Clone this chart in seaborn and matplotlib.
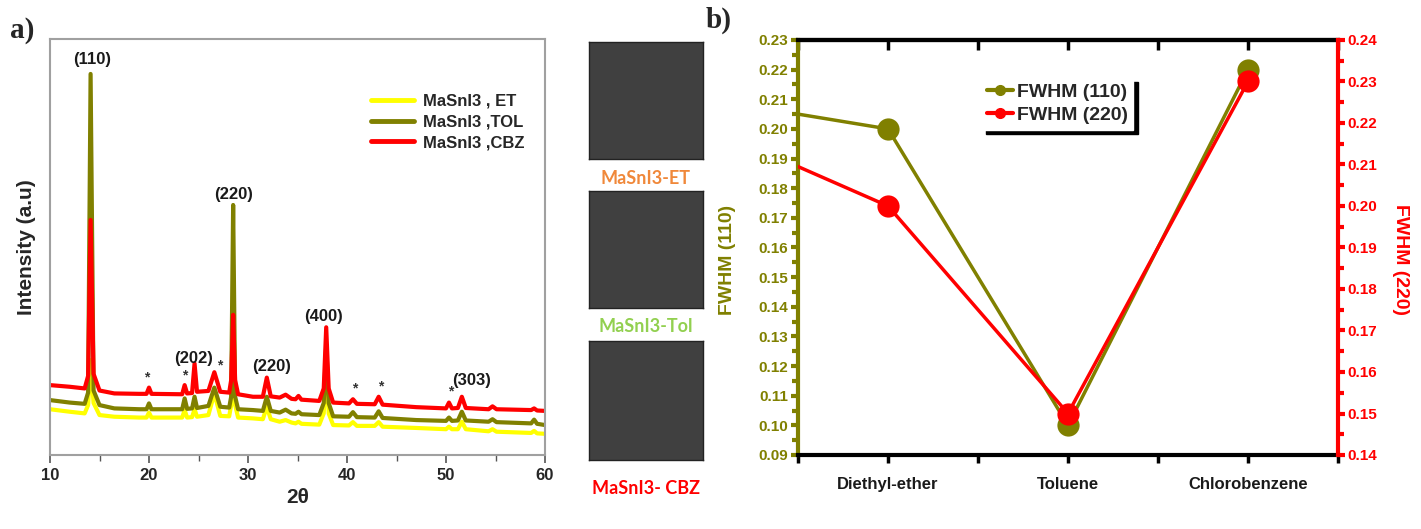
import numpy as np
import pandas as pd
import seaborn as sns
import matplotlib.pyplot as plt
from matplotlib.lines import Line2D
from matplotlib.ticker import MultipleLocator, FormatStrFormatter

# ---------------- data: XRD patterns (2-theta vertices and intensities, a.u.) ----------------
two_theta = [10.0, 12.0, 13.5, 13.85, 14.1, 14.4, 15.0, 16.5, 19.0, 19.75,
             20.0, 20.25, 23.35, 23.6, 23.85, 24.35, 24.6, 24.85, 26.0, 26.6,
             27.2, 28.1, 28.3, 28.5, 28.7, 29.0, 30.5, 31.5, 31.9, 32.3,
             33.2, 33.8, 34.4, 34.8, 35.1, 35.4, 37.2, 37.65, 37.9, 38.15,
             38.6, 40.2, 40.6, 41.0, 42.8, 43.2, 43.6, 47.0, 50.0, 50.3,
             50.6, 51.2, 51.6, 52.0, 54.3, 54.7, 55.1, 58.6, 58.9, 59.2, 60.0]

int_cbz = [16.8, 16.4, 16.0, 19.0, 56.5, 19.5, 15.5, 14.8, 14.7, 14.7,
           16.2, 14.7, 14.6, 16.8, 14.8, 14.9, 22.0, 15.2, 15.4, 19.9,
           15.2, 15.0, 18.0, 33.7, 18.0, 14.6, 14.0, 14.0, 18.6, 14.1,
           13.8, 14.5, 13.5, 13.4, 14.2, 13.3, 13.0, 16.0, 30.7, 16.0,
           12.6, 12.4, 13.4, 12.3, 12.2, 14.0, 12.1, 11.5, 11.2, 12.6,
           11.2, 11.3, 14.0, 11.3, 11.0, 11.7, 11.0, 10.8, 11.2, 10.7, 10.6]

int_tol = [13.2, 12.6, 12.3, 15.0, 91.6, 15.5, 12.0, 11.2, 11.0, 11.0,
           12.4, 11.0, 11.0, 13.6, 11.1, 11.2, 14.0, 11.3, 11.8, 16.2,
           11.6, 11.4, 14.0, 60.1, 14.0, 11.0, 10.8, 10.6, 14.0, 10.6,
           10.2, 10.9, 10.0, 9.9, 10.4, 9.8, 9.6, 12.5, 26.4, 12.5,
           9.3, 9.2, 10.3, 9.1, 9.0, 10.5, 8.9, 8.4, 8.2, 9.0,
           8.2, 8.3, 10.4, 8.3, 8.0, 8.6, 7.9, 7.6, 8.5, 7.5, 7.2]

int_et = [11.0, 10.4, 10.0, 12.0, 22.8, 12.5, 9.6, 9.2, 9.0, 9.0,
          10.2, 9.0, 9.0, 10.8, 9.0, 9.1, 11.0, 9.2, 9.6, 14.8,
          9.4, 9.3, 12.0, 30.0, 12.0, 9.0, 8.8, 8.6, 11.6, 8.6,
          8.0, 8.4, 7.8, 7.6, 8.0, 7.5, 7.3, 10.0, 22.8, 10.0,
          7.2, 7.1, 7.9, 7.0, 7.0, 7.9, 6.8, 6.5, 6.2, 6.8,
          6.2, 6.2, 8.0, 6.2, 5.7, 6.2, 5.6, 5.3, 5.8, 5.2, 5.1]

series_names = ["MaSnI3 , ET", "MaSnI3 ,TOL", "MaSnI3 ,CBZ"]
series_colors = ["#ffff00", "#808000", "#ff0000"]

# reflection labels (text, 2-theta, height)
hkl_text = ["(110)", "(220)", "(202)", "(220)", "(400)", "(303)"]
hkl_pos = [14.3, 28.5, 24.5, 32.4, 37.6, 52.6]
hkl_y = [95.0, 62.5, 23.3, 21.2, 33.2, 18.0]
# impurity markers
star_pos = [19.8, 23.6, 27.1, 40.8, 43.4, 50.5]
star_y = [18.6, 19.0, 21.6, 16.1, 16.4, 15.2]

# ---------------- data: FWHM versus solvent ----------------
solvents = ["Diethyl-ether", "Toluene", "Chlorobenzene"]
solvent_pos = [1, 2, 3]
# leading point at position 0 lies left of the visible range
fwhm_pos = [0, 1, 2, 3]
fwhm_110 = [0.210, 0.20, 0.10, 0.22]
fwhm_220 = [0.219, 0.20, 0.15, 0.23]

film_labels = ["MaSnI3-ET", "MaSnI3-Tol", "MaSnI3- CBZ"]
film_colors = ["#f0883a", "#92d050", "#ff0000"]

# ---------------- figure ----------------
sns.set_theme(style="white")
plt.rcParams["font.family"] = ["Liberation Sans", "DejaVu Sans"]
plt.rcParams["font.weight"] = "bold"

W, H = 1421, 529
fig = plt.figure(figsize=(W / 100, H / 100), dpi=100)
fig.patch.set_facecolor("white")


def px_axes(left, top, right, bottom):
    return fig.add_axes([left / W, 1 - bottom / H, (right - left) / W, (bottom - top) / H])


# ---------------- panel a: XRD ----------------
ax_a = px_axes(50, 39, 545, 455)
xrd = pd.DataFrame({"2theta": two_theta * 3,
                    "I": int_et + int_tol + int_cbz,
                    "sample": sum([[n] * len(two_theta) for n in series_names], [])})
for name, col in zip(series_names, series_colors):
    sub = xrd[xrd["sample"] == name]
    sns.lineplot(data=sub, x="2theta", y="I", ax=ax_a, color=col, lw=3.0,
                 sort=False, estimator=None, label=name)

ax_a.set_xlim(10, 60)
ax_a.set_ylim(0, 100)
ax_a.xaxis.set_major_locator(MultipleLocator(10))
ax_a.xaxis.set_minor_locator(MultipleLocator(5))
ax_a.set_yticks([])
ax_a.tick_params(axis="x", which="major", direction="out", length=6, width=1.2,
                 color="#555555", labelsize=12, pad=3, bottom=True)
ax_a.tick_params(axis="x", which="minor", direction="out", length=4, width=1.0,
                 color="#555555", bottom=True)
for lab in ax_a.get_xticklabels():
    lab.set_fontweight("bold")
for sp in ax_a.spines.values():
    sp.set_color("#a0a0a0")
    sp.set_linewidth(1.5)
ax_a.set_xlabel("2θ", fontsize=15, fontweight="bold", labelpad=4)
ax_a.set_ylabel("Intensity (a.u)", fontsize=15, fontweight="bold", labelpad=10)

for t, x, y in zip(hkl_text, hkl_pos, hkl_y):
    ax_a.text(x, y, t, ha="center", va="center", fontsize=12, fontweight="bold", color="#1a1a1a")
for x, y in zip(star_pos, star_y):
    ax_a.text(x, y, "*", ha="center", va="center", fontsize=10, color="#333333")

leg_a = ax_a.legend(loc="upper left", bbox_to_anchor=(0.635, 0.885), frameon=False,
                    fontsize=12, handlelength=2.6, handletextpad=0.5, labelspacing=0.35,
                    borderaxespad=0)
for txt in leg_a.get_texts():
    txt.set_fontweight("bold")
for ln in leg_a.get_lines():
    ln.set_linewidth(3.5)

fig.text(22 / W, 1 - 31 / H, "a)", fontsize=21, fontweight="bold",
         family=["Liberation Serif", "DejaVu Serif"], ha="center", va="center")

# ---------------- film photographs ----------------
film_boxes = [(589, 42, 703, 159), (589, 191, 703, 308), (589, 341, 703, 460)]
film_label_y = [178, 326, 488]
for (l, t, r, b), name, col, ly in zip(film_boxes, film_labels, film_colors, film_label_y):
    axf = px_axes(l, t, r, b)
    axf.set_facecolor("#404040")
    axf.set_xticks([])
    axf.set_yticks([])
    for sp in axf.spines.values():
        sp.set_color("#222222")
        sp.set_linewidth(1.0)
    fig.text(646 / W, 1 - ly / H, name, color=col, fontsize=13, fontweight="bold",
             family=["Lato", "DejaVu Sans"], ha="center", va="center")

# ---------------- panel b: FWHM ----------------
olive = "#808000"
red = "#ff0000"
ax_b = px_axes(798, 40, 1338, 455)
fw = pd.DataFrame({"pos": fwhm_pos, "f110": fwhm_110, "f220": fwhm_220})
sns.lineplot(data=fw, x="pos", y="f110", ax=ax_b, color=olive, lw=2.5, marker="o",
             markersize=16, markeredgewidth=0, sort=False, estimator=None)
ax_r = ax_b.twinx()
sns.lineplot(data=fw, x="pos", y="f220", ax=ax_r, color=red, lw=2.5, marker="o",
             markersize=16, markeredgewidth=0, sort=False, estimator=None)

ax_b.set_xlim(0.5, 3.5)
ax_b.set_ylim(0.09, 0.23)
ax_r.set_ylim(0.14, 0.24)

ax_b.set_xticks(solvent_pos, solvents)
ax_b.xaxis.set_minor_locator(MultipleLocator(0.5))
ax_b.tick_params(axis="x", which="both", direction="out", length=6, width=2.5,
                 color="black", bottom=True, top=False, labelsize=12, pad=10)
for lab in ax_b.get_xticklabels():
    lab.set_fontweight("bold")
    lab.set_color("#1a1a1a")

top_ax = ax_b.secondary_xaxis("top")
top_ax.set_xticks([0.5, 1.0, 1.5, 2.0, 2.5, 3.0, 3.5])
top_ax.tick_params(axis="x", direction="in", length=7, width=2.5, color="black",
                   labeltop=False)
top_ax.spines["top"].set_linewidth(3)
top_ax.spines["top"].set_color("black")

ax_b.yaxis.set_major_locator(MultipleLocator(0.01))
ax_b.yaxis.set_minor_locator(MultipleLocator(0.005))
ax_b.yaxis.set_major_formatter(FormatStrFormatter("%.2f"))
ax_b.tick_params(axis="y", which="major", direction="out", length=5, width=3,
                 color=olive, labelcolor=olive, labelsize=11, left=True, pad=2)
ax_b.tick_params(axis="y", which="minor", direction="out", length=4, width=3,
                 color=olive, left=True)
for lab in ax_b.get_yticklabels():
    lab.set_fontweight("bold")

ax_r.yaxis.set_major_locator(MultipleLocator(0.01))
ax_r.yaxis.set_minor_locator(MultipleLocator(0.005))
ax_r.yaxis.set_major_formatter(FormatStrFormatter("%.2f"))
ax_r.tick_params(axis="y", which="major", direction="out", length=5, width=3,
                 color=red, labelcolor=red, labelsize=11, right=True, pad=2)
ax_r.tick_params(axis="y", which="minor", direction="out", length=4, width=3,
                 color=red, right=True)
for lab in ax_r.get_yticklabels():
    lab.set_fontweight("bold")

for sp in ["top", "bottom"]:
    ax_b.spines[sp].set_color("black")
    ax_b.spines[sp].set_linewidth(3)
ax_b.spines["left"].set_color(olive)
ax_b.spines["left"].set_linewidth(3)
ax_b.spines["right"].set_visible(False)
ax_r.spines["right"].set_color(red)
ax_r.spines["right"].set_linewidth(3)
for sp in ["left", "top", "bottom"]:
    ax_r.spines[sp].set_visible(False)

ax_b.set_xlabel("")
ax_b.set_ylabel("FWHM (110)", color=olive, fontsize=14, fontweight="bold")
ax_b.yaxis.label.set(ha="center", va="center")
ax_b.yaxis.set_label_coords((727 - 798) / 540, 0.47)
ax_r.set_ylabel("FWHM (220)", color=red, fontsize=14, fontweight="bold", rotation=270)
ax_r.yaxis.label.set(ha="center", va="center")
ax_r.yaxis.set_label_coords((1401 - 798) / 540, 0.47)

handles = [Line2D([], [], color=olive, lw=3, marker="o", markersize=7),
           Line2D([], [], color=red, lw=3, marker="o", markersize=7)]
leg_b = ax_r.legend(handles, ["FWHM (110)", "FWHM (220)"], loc="upper left",
                    bbox_to_anchor=(0.34, 0.91), borderaxespad=0, fontsize=14,
                    handlelength=1.3, handletextpad=0.2, labelspacing=0.3,
                    borderpad=0.3, fancybox=False, framealpha=1,
                    facecolor="white", edgecolor="white",
                    shadow={"color": "black", "alpha": 1, "ox": 3, "oy": -3})
for txt in leg_b.get_texts():
    txt.set_fontweight("bold")

fig.text(719 / W, 1 - 20 / H, "b)", fontsize=21, fontweight="bold",
         family=["Liberation Serif", "DejaVu Serif"], ha="center", va="center")

fig.savefig("out.png", dpi=100, facecolor="white")
